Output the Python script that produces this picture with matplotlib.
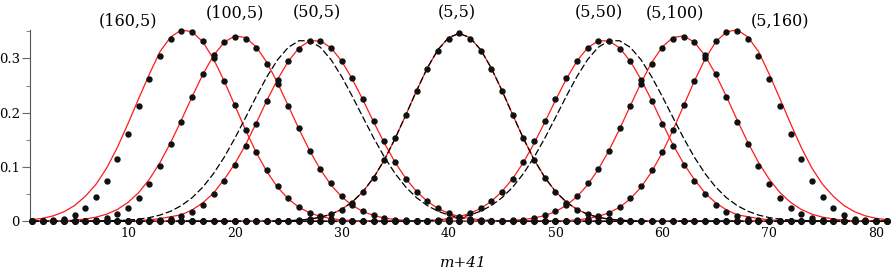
import numpy as np
import matplotlib
matplotlib.use("Agg")
import matplotlib.pyplot as plt

# x axis runs over m+41 = 1..81
N = 81
labels = ["(160,5)", "(100,5)", "(50,5)", "(5,5)", "(5,50)", "(5,100)", "(5,160)"]
label_x = [10.0, 20.0, 27.7, 40.8, 54.1, 61.2, 71.0]
label_y = [0.369, 0.384, 0.384, 0.384, 0.384, 0.384, 0.369]

# exact values (dots): (first m+41, values); zero outside
dots_160_5 = (1, [0.0002, 0.0006, 0.0018, 0.0050, 0.0116, 0.025, 0.045, 0.074, 0.114, 0.161, 0.213,
                  0.262, 0.304, 0.336, 0.351, 0.349, 0.332, 0.300, 0.258, 0.214, 0.168, 0.128, 0.0945,
                  0.065, 0.0435, 0.027, 0.016, 0.0092, 0.005, 0.0026, 0.0013, 0.0006, 0.0003, 0.0001])
dots_100_5 = (4, [0.0002, 0.0005, 0.0013, 0.003, 0.0067, 0.0134, 0.025, 0.043, 0.069, 0.101, 0.142,
                  0.183, 0.229, 0.271, 0.306, 0.330, 0.340, 0.336, 0.3186, 0.289, 0.252, 0.212, 0.172,
                  0.1295, 0.0963, 0.070, 0.047, 0.030, 0.0185, 0.011, 0.0062, 0.0033, 0.0017, 0.0008,
                  0.0004, 0.0002, 0.0001])
dots_50_5 = (10, [0.0001, 0.0003, 0.0008, 0.002, 0.0045, 0.009, 0.018, 0.030, 0.0497, 0.0748, 0.1037,
                  0.139, 0.180, 0.2215, 0.260, 0.295, 0.317, 0.332, 0.332, 0.320, 0.296, 0.263, 0.225,
                  0.185, 0.147, 0.109, 0.078, 0.054, 0.0368, 0.0237, 0.0147, 0.0087, 0.005, 0.0027,
                  0.0014, 0.0007, 0.0003, 0.0001])
dots_5_5 = (22, [0.0001, 0.0002, 0.0005, 0.001, 0.0021, 0.004, 0.0072, 0.0129, 0.0208, 0.034, 0.0546,
                 0.079, 0.113, 0.1528, 0.1958, 0.240, 0.2805, 0.3136, 0.336, 0.346, 0.336, 0.3136,
                 0.2805, 0.240, 0.1958, 0.1528, 0.113, 0.079, 0.0546, 0.034, 0.0208, 0.0129, 0.0072,
                 0.004, 0.0021, 0.001, 0.0005, 0.0002, 0.0001])
dots_5_50 = (35, [0.0001, 0.0003, 0.0007, 0.0014, 0.0027, 0.005, 0.0087, 0.0147, 0.0237, 0.0368, 0.054,
                  0.078, 0.109, 0.147, 0.185, 0.225, 0.263, 0.296, 0.320, 0.332, 0.332, 0.317, 0.295,
                  0.260, 0.2215, 0.180, 0.139, 0.1037, 0.0748, 0.0497, 0.030, 0.018, 0.009, 0.0045,
                  0.002, 0.0008, 0.0003, 0.0001])
dots_5_100 = (42, [0.0001, 0.0002, 0.0004, 0.0008, 0.0017, 0.0033, 0.0062, 0.011, 0.0185, 0.030, 0.047,
                   0.070, 0.0963, 0.1295, 0.172, 0.212, 0.252, 0.289, 0.3186, 0.336, 0.340, 0.330,
                   0.306, 0.271, 0.229, 0.183, 0.142, 0.101, 0.069, 0.043, 0.025, 0.0134, 0.0067,
                   0.003, 0.0013, 0.0005, 0.0002])
dots_5_160 = (48, [0.0001, 0.0003, 0.0006, 0.0013, 0.0026, 0.005, 0.0092, 0.016, 0.027, 0.0435, 0.065,
                   0.0945, 0.128, 0.168, 0.214, 0.258, 0.300, 0.332, 0.349, 0.351, 0.336, 0.304, 0.262,
                   0.213, 0.161, 0.114, 0.074, 0.045, 0.025, 0.0116, 0.0050, 0.0018, 0.0006, 0.0002])

# red approximations
red_160_5 = (1, [0.003, 0.0055, 0.010, 0.0175, 0.029, 0.046, 0.068, 0.098, 0.136, 0.180, 0.226, 0.271,
                 0.3128, 0.3396, 0.3523, 0.349, 0.3304, 0.2989, 0.2583, 0.2132, 0.1681, 0.1267, 0.0912,
                 0.0627, 0.0412, 0.0258, 0.0155, 0.0089, 0.0049, 0.0025, 0.0013, 0.0006, 0.0003, 0.0001])
red_100_5 = (1, [0.0001, 0.00025, 0.0005, 0.0011, 0.0022, 0.0042, 0.0076, 0.0131, 0.0218, 0.0348, 0.053,
                 0.0775, 0.1084, 0.1454, 0.1867, 0.2296, 0.2704, 0.3052, 0.3298, 0.3414, 0.3384, 0.3213,
                 0.2923, 0.2546, 0.2125, 0.1698, 0.130, 0.0953, 0.0669, 0.045, 0.029, 0.0179, 0.0106,
                 0.006, 0.0032, 0.0017, 0.0008, 0.0004, 0.0002, 0.0001])
red_50_5 = (9, [0.0003, 0.0007, 0.0014, 0.0027, 0.005, 0.0085, 0.012, 0.021, 0.034, 0.052, 0.077, 0.106,
                0.141, 0.181, 0.2228, 0.2614, 0.2948, 0.3193, 0.3323, 0.3323, 0.3193, 0.2948, 0.2614,
                0.2228, 0.1824, 0.1435, 0.1084, 0.0787, 0.0549, 0.0368, 0.0237, 0.0147, 0.0087, 0.005,
                0.0027, 0.0014, 0.0007, 0.0003])
red_5_5 = (22, [0.0001, 0.0002, 0.0005, 0.001, 0.0021, 0.004, 0.0074, 0.0131, 0.0221, 0.0357, 0.0549,
                0.0808, 0.1136, 0.1527, 0.196, 0.2405, 0.282, 0.3159, 0.3382, 0.346, 0.3382, 0.3159,
                0.282, 0.2405, 0.196, 0.1527, 0.1136, 0.0808, 0.0549, 0.0357, 0.0221, 0.0131, 0.0074,
                0.004, 0.0021, 0.001, 0.0005, 0.0002, 0.0001])
red_5_50 = (36, [0.0003, 0.0007, 0.0014, 0.0027, 0.005, 0.0087, 0.0147, 0.0237, 0.0368, 0.0549, 0.0787,
                 0.1084, 0.1435, 0.1824, 0.2228, 0.2614, 0.2948, 0.3193, 0.3323, 0.3323, 0.3193, 0.2948,
                 0.2614, 0.2228, 0.181, 0.141, 0.106, 0.077, 0.052, 0.034, 0.021, 0.012, 0.0085, 0.005,
                 0.0027, 0.0014, 0.0007, 0.0003])
red_5_100 = (42, [0.0001, 0.0002, 0.0004, 0.0008, 0.0017, 0.0032, 0.006, 0.0106, 0.0179, 0.029, 0.045,
                  0.0669, 0.0953, 0.130, 0.1698, 0.2125, 0.2546, 0.2923, 0.3213, 0.3384, 0.3414, 0.3298,
                  0.3052, 0.2704, 0.2296, 0.1867, 0.1454, 0.1084, 0.0775, 0.053, 0.0348, 0.0218, 0.0131,
                  0.0076, 0.0042, 0.0022, 0.0011, 0.0005, 0.00025, 0.0001])
red_5_160 = (48, [0.0001, 0.0003, 0.0006, 0.0013, 0.0025, 0.0049, 0.0089, 0.0155, 0.0258, 0.0412, 0.0627,
                  0.0912, 0.1267, 0.1681, 0.2132, 0.2583, 0.2989, 0.3304, 0.349, 0.3523, 0.3396, 0.3128,
                  0.271, 0.226, 0.180, 0.136, 0.098, 0.068, 0.046, 0.029, 0.0175, 0.010, 0.0055, 0.003])

# black dashed approximations
dash_50_5 = (8, [0.0006, 0.0012, 0.0022, 0.0039, 0.0068, 0.0115, 0.0186, 0.029, 0.0435, 0.0629, 0.0878,
                 0.118, 0.153, 0.191, 0.2297, 0.2663, 0.2976, 0.3204, 0.3325, 0.3325, 0.3204, 0.2976,
                 0.2663, 0.2297, 0.191, 0.153, 0.118, 0.0878, 0.0629, 0.0435, 0.029, 0.0186, 0.0115,
                 0.0068, 0.0039, 0.0022, 0.0012, 0.0006, 0.0003, 0.0001])
dash_5_5 = (22, [0.0001, 0.0002, 0.0005, 0.001, 0.0021, 0.004, 0.0074, 0.0131, 0.0221, 0.0357, 0.0549,
                 0.0808, 0.1136, 0.1527, 0.196, 0.2405, 0.282, 0.3159, 0.3382, 0.346, 0.3382, 0.3159,
                 0.282, 0.2405, 0.196, 0.1527, 0.1136, 0.0808, 0.0549, 0.0357, 0.0221, 0.0131, 0.0074,
                 0.004, 0.0021, 0.001, 0.0005, 0.0002, 0.0001])
dash_5_50 = (35, [0.0001, 0.0003, 0.0006, 0.0012, 0.0022, 0.0039, 0.0068, 0.0115, 0.0186, 0.029, 0.0435,
                  0.0629, 0.0878, 0.118, 0.153, 0.191, 0.2297, 0.2663, 0.2976, 0.3204, 0.3325, 0.3325,
                  0.3204, 0.2976, 0.2663, 0.2297, 0.191, 0.153, 0.118, 0.0878, 0.0629, 0.0435, 0.029,
                  0.0186, 0.0115, 0.0068, 0.0039, 0.0022, 0.0012, 0.0006])


def full(series):
    start, vals = series
    arr = np.zeros(N)
    arr[start - 1:start - 1 + len(vals)] = vals
    return arr


x = np.arange(1, N + 1)
SERIF = ["DejaVu Serif"]

fig = plt.figure(figsize=(8.91, 2.77), dpi=100)
ax = fig.add_axes([29.5 / 891, 55.7 / 277, 861.5 / 891, 191.7 / 277])

for s in [red_160_5, red_100_5, red_50_5, red_5_5, red_5_50, red_5_100, red_5_160]:
    ax.plot(x, full(s), color="#ff1a1a", lw=0.9, zorder=2, clip_on=False)
for s in [dash_50_5, dash_5_5, dash_5_50]:
    ax.plot(x, full(s), color="black", lw=0.9, dashes=(5.5, 2.2), zorder=3, clip_on=False)
for s in [dots_160_5, dots_100_5, dots_50_5, dots_5_5, dots_5_50, dots_5_100, dots_5_160]:
    ax.plot(x, full(s), "o", color="#111111", ms=4.6, mew=0, zorder=4, clip_on=False)

for lab, lx, ly in zip(labels, label_x, label_y):
    ax.text(lx, ly, lab, ha="center", va="center", fontsize=11.5, family=SERIF, clip_on=False)

ax.set_xlim(0.78, 81.4)
ax.set_ylim(0, 0.353)
ax.set_xticks([10, 20, 30, 40, 50, 60, 70, 80])
ax.set_yticks([0, 0.1, 0.2, 0.3])
ax.set_yticklabels(["0", "0.1", "0.2", "0.3"])
ax.set_yticks([0.05, 0.15, 0.25, 0.35], minor=True)
for sp in ["top", "right"]:
    ax.spines[sp].set_visible(False)
for sp in ["left", "bottom"]:
    ax.spines[sp].set_color("#555555")
    ax.spines[sp].set_linewidth(0.8)
ax.tick_params(axis="y", which="major", length=6, width=0.8, color="#666666", pad=1.0, labelsize=9.5)
ax.tick_params(axis="y", which="minor", length=3, width=0.8, color="#888888")
ax.tick_params(axis="x", which="major", length=2.5, width=0.8, color="#888888", pad=1.5, labelsize=9)
for t in ax.get_xticklabels() + ax.get_yticklabels():
    t.set_family(SERIF)

ax.text(0.503, -0.2175, "m+41", transform=ax.transAxes, ha="center", va="center",
        fontsize=11, style="italic", family=SERIF)

fig.savefig("out.png", dpi=100)
